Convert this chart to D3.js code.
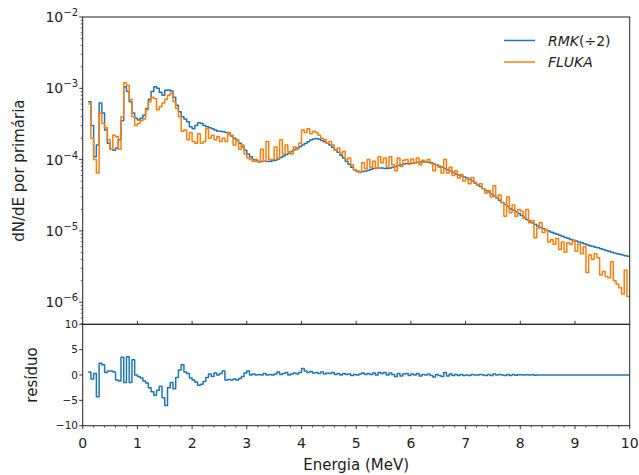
<!DOCTYPE html>
<html>
<head>
<meta charset="utf-8">
<script src="https://cdn.jsdelivr.net/npm/d3@7"></script>
<style>
  body { margin: 0; background: #fff; }
  svg { display: block; font-family: "DejaVu Sans", sans-serif; }
</style>
</head>
<body>
<svg id="chart" width="639" height="475"></svg>
<script>
// Energy binning of the spectra (MeV): first bin edge and bin width
const binStart = 0.10;
const binWidth = 0.05;

// RMK spectrum divided by 2, dN/dE per primary, one value per bin
const rmkHalf = [
  6.5e-4, 3.0e-4, 1.1e-4, 1.6e-4, 6.2e-4, 4.5e-4, 2.6e-4, 1.7e-4, 1.4e-4, 1.35e-4, 1.45e-4, 1.9e-4, 3.5e-4, 1.05e-3, 9.0e-4, 6.5e-4, 4.5e-4, 3.8e-4,
  3.6e-4, 3.8e-4, 4.2e-4, 5.2e-4, 7.0e-4, 9.0e-4, 1.05e-3, 1.0e-3, 8.8e-4, 8.0e-4, 9.4e-4, 9.5e-4, 9.2e-4, 7.5e-4, 5.8e-4, 4.7e-4, 4.0e-4, 3.7e-4, 3.4e-4, 2.9e-4,
  2.7e-4, 3.0e-4, 3.3e-4, 3.2e-4, 3.0e-4, 2.9e-4, 2.8e-4, 2.7e-4, 2.6e-4, 2.5e-4, 2.5e-4, 2.45e-4, 2.4e-4, 2.3e-4, 2.15e-4, 2.0e-4, 1.85e-4, 1.7e-4, 1.5e-4, 1.35e-4,
  1.2e-4, 1.1e-4, 1.0e-4, 9.6e-5, 9.4e-5, 9.4e-5, 9.5e-5, 9.4e-5, 9.5e-5, 9.6e-5, 9.8e-5, 1.02e-4, 1.07e-4, 1.12e-4, 1.18e-4, 1.23e-4, 1.3e-4, 1.38e-4, 1.45e-4, 1.52e-4,
  1.6e-4, 1.68e-4, 1.78e-4, 1.88e-4, 1.95e-4, 1.98e-4, 1.93e-4, 1.85e-4, 1.78e-4, 1.7e-4, 1.6e-4, 1.48e-4, 1.38e-4, 1.27e-4, 1.15e-4, 1.05e-4, 9.5e-5, 8.6e-5, 7.8e-5, 7.2e-5,
  6.8e-5, 6.7e-5, 6.8e-5, 6.9e-5, 7.1e-5, 7.3e-5, 7.5e-5, 7.6e-5, 7.6e-5, 7.6e-5, 7.5e-5, 7.5e-5, 7.6e-5, 7.8e-5, 8.0e-5, 8.3e-5, 8.5e-5, 8.7e-5, 8.8e-5, 8.8e-5,
  8.9e-5, 9.0e-5, 9.1e-5, 9.2e-5, 9.3e-5, 9.3e-5, 9.2e-5, 9.0e-5, 8.7e-5, 8.4e-5, 8.1e-5, 7.8e-5, 7.5e-5, 7.2e-5, 6.9e-5, 6.6e-5, 6.3e-5, 6.1e-5, 5.9e-5, 5.7e-5,
  5.5e-5, 5.3e-5, 5.0e-5, 4.7e-5, 4.4e-5, 4.2e-5, 3.9e-5, 3.7e-5, 3.5e-5, 3.3e-5, 3.1e-5, 2.9e-5, 2.7e-5, 2.5e-5, 2.35e-5, 2.2e-5, 2.05e-5, 1.95e-5, 1.85e-5, 1.75e-5,
  1.65e-5, 1.55e-5, 1.45e-5, 1.38e-5, 1.3e-5, 1.23e-5, 1.17e-5, 1.12e-5, 1.07e-5, 1.03e-5, 1.0e-5, 9.6e-6, 9.3e-6, 9.0e-6, 8.7e-6, 8.4e-6, 8.1e-6, 7.9e-6, 7.6e-6, 7.4e-6,
  7.2e-6, 7.0e-6, 6.8e-6, 6.6e-6, 6.4e-6, 6.2e-6, 6.1e-6, 5.9e-6, 5.8e-6, 5.6e-6, 5.5e-6, 5.3e-6, 5.2e-6, 5.0e-6, 4.9e-6, 4.8e-6, 4.7e-6, 4.6e-6, 4.5e-6, 4.4e-6
];

// FLUKA spectrum, dN/dE per primary, same bins
const fluka = [
  6.0e-4, 2.0e-4, 1.0e-4, 6.5e-5, 4.5e-4, 3.2e-4, 2.8e-4, 1.9e-4, 1.4e-4, 2.2e-4, 2.1e-4, 1.4e-4, 4.0e-4, 1.2e-3, 1.1e-3, 7.0e-4, 4.0e-4, 3.0e-4,
  3.2e-4, 3.5e-4, 3.7e-4, 5.0e-4, 6.5e-4, 7.5e-4, 7.2e-4, 5.0e-4, 5.5e-4, 6.2e-4, 7.0e-4, 8.0e-4, 8.5e-4, 6.5e-4, 5.2e-4, 4.0e-4, 2.5e-4, 2.6e-4, 1.9e-4, 2.4e-4,
  1.8e-4, 1.7e-4, 2.3e-4, 1.7e-4, 1.8e-4, 2.7e-4, 2.0e-4, 2.2e-4, 1.9e-4, 2.1e-4, 1.8e-4, 2.0e-4, 1.8e-4, 2.4e-4, 2.2e-4, 1.6e-4, 1.9e-4, 1.4e-4, 1.6e-4, 1.2e-4,
  1.05e-4, 1.0e-4, 9.5e-5, 1.0e-4, 9.2e-5, 1.4e-4, 9.5e-5, 1.8e-4, 1.0e-4, 1.0e-4, 1.5e-4, 1.05e-4, 1.9e-4, 1.2e-4, 1.6e-4, 1.3e-4, 1.2e-4, 1.5e-4, 1.4e-4, 1.7e-4,
  2.6e-4, 2.4e-4, 2.7e-4, 2.3e-4, 2.5e-4, 2.4e-4, 2.2e-4, 2.0e-4, 1.9e-4, 1.7e-4, 1.8e-4, 1.6e-4, 1.35e-4, 1.45e-4, 1.2e-4, 1.3e-4, 1.0e-4, 1.05e-4, 8.5e-5, 7.2e-5,
  7.0e-5, 6.6e-5, 9.0e-5, 7.5e-5, 1.0e-4, 7.8e-5, 9.5e-5, 7.5e-5, 1.1e-4, 9.0e-5, 1.05e-4, 7.8e-5, 1.1e-4, 8.5e-5, 7.0e-5, 1.05e-4, 8.0e-5, 9.8e-5, 1.0e-4, 8.6e-5,
  1.02e-4, 9.0e-5, 1.05e-4, 8.5e-5, 9.8e-5, 9.2e-5, 1.0e-4, 8.8e-5, 7.0e-5, 8.5e-5, 7.8e-5, 6.5e-5, 1.0e-4, 6.5e-5, 7.8e-5, 6.0e-5, 7.0e-5, 5.5e-5, 6.2e-5, 5.0e-5,
  5.4e-5, 4.6e-5, 5.6e-5, 4.8e-5, 4.4e-5, 4.6e-5, 3.9e-5, 3.4e-5, 3.7e-5, 3.0e-5, 4.3e-5, 2.9e-5, 3.2e-5, 2.5e-5, 1.6e-5, 3.0e-5, 1.8e-5, 2.3e-5, 1.6e-5, 2.0e-5,
  1.9e-5, 1.5e-5, 2.0e-5, 1.3e-5, 1.4e-5, 8.0e-6, 1.1e-5, 1.3e-5, 9.5e-6, 1.05e-5, 7.0e-6, 7.5e-6, 6.5e-6, 7.8e-6, 5.5e-6, 7.0e-6, 5.0e-6, 6.8e-6, 6.5e-6, 7.2e-6,
  5.2e-6, 6.5e-6, 4.8e-6, 6.0e-6, 2.6e-6, 4.6e-6, 4.0e-6, 4.8e-6, 4.2e-6, 2.4e-6, 2.7e-6, 2.3e-6, 2.2e-6, 3.7e-6, 2.0e-6, 1.8e-6, 1.6e-6, 1.3e-6, 2.8e-6, 1.2e-6
];

// Residual between the two spectra, same bins
const residuo = [
  0.6, -0.8, 0.3, -4.3, 2.3, 2.0, 0.5, 0.8, 0.8, 0.6, -1.0, -1.2, 3.5, -1.5, 3.6, -1.5, 3.0, 0.0,
  -0.3, -0.6, -1.2, -1.6, -2.5, -3.3, -4.0, -3.0, -2.2, -4.5, -6.0, -2.5, -1.5, -2.7, -0.5, 1.0, 2.0, 0.6, 0.3, -0.6,
  -1.0, -1.4, -2.0, -1.8, -1.3, -0.5, 0.2, -0.3, 0.4, 0.0, 0.3, 0.8, -1.0, -0.9, -1.0, -0.8, -1.0, -0.7, -0.3, 0.4,
  0.8, 0.0, 0.2, 0.0, 0.1, 0.0, 0.3, 0.0, 0.1, 0.0, 0.2, 0.6, 0.1, 0.3, 0.5, 0.0, 0.2, 0.4, 0.2, 0.5,
  1.3, 0.8, 0.5, 0.7, 0.4, 0.5, 0.3, 0.6, 0.2, 0.4, 0.3, 0.5, 0.1, 0.3, 0.0, 0.3, 0.1, 0.2, -0.1, 0.1,
  0.0, 0.2, 0.4, 0.1, 0.3, 0.1, 0.4, 0.0, 0.5, 0.3, 0.5, 0.0, 0.4, 0.1, -0.3, 0.3, -0.2, 0.2, 0.3, -0.1,
  0.2, 0.0, 0.3, -0.2, 0.1, 0.0, 0.2, -0.1, -0.4, 0.1, -0.1, -0.3, 0.5, -0.2, 0.2, -0.1, 0.1, -0.1, 0.1, -0.1,
  0.0, -0.1, 0.1, 0.0, 0.0, 0.1, 0.0, -0.1, 0.1, -0.1, 0.2, 0.0, 0.1, 0.0, -0.1, 0.1, -0.1, 0.1, -0.05, 0.05,
  0.05, 0.0, 0.05, 0.0, 0.03, -0.03, 0.02, 0.0, 0.02, -0.02, 0.0, 0.02, 0.0, -0.02, 0.0, 0.01, 0.0, -0.01, 0.0, 0.0,
  0, 0, 0, 0, 0, 0, 0, 0, 0, 0, 0, 0, 0, 0, 0, 0, 0, 0, 0, 0
];

// Axis ticks and labels
const energyTicks = [0, 1, 2, 3, 4, 5, 6, 7, 8, 9, 10];
const decadeTicks = [1e-2, 1e-3, 1e-4, 1e-5, 1e-6];
const decadeExponents = ["\u22122", "\u22123", "\u22124", "\u22125", "\u22126"];
const residTicks = [-10, -5, 0, 5, 10];
const residLabels = ["\u221210", "\u22125", "0", "5", "10"];
const seriesNames = ["RMK", "FLUKA"];

const colors = { rmk: "#1f77b4", fluka: "#ff7f0e" };

const svg = d3.select("#chart");
const left = 82.7, right = 629.7;
const topY0 = 17, topY1 = 324.3, botY0 = 324.3, botY1 = 425.7;

const x = d3.scaleLinear().domain([0, 10]).range([left, right]);
const y = d3.scaleLog().domain([4.9e-7, 1e-2]).range([topY1, topY0]);
const yr = d3.scaleLinear().domain([-10, 10]).range([botY1, botY0]);

// bin edges: each value is drawn from its left edge; the last one is held to the final edge
function stepPoints(values) {
  const pts = values.map((v, i) => [binStart + i * binWidth, v]);
  pts.push([binStart + values.length * binWidth, values[values.length - 1]]);
  return pts;
}

svg.append("defs").append("clipPath").attr("id", "clipTop")
  .append("rect").attr("x", left).attr("y", topY0).attr("width", right - left).attr("height", topY1 - topY0);
svg.select("defs").append("clipPath").attr("id", "clipBot")
  .append("rect").attr("x", left).attr("y", botY0).attr("width", right - left).attr("height", botY1 - botY0);

const lineTop = d3.line().curve(d3.curveStepAfter).x(d => x(d[0])).y(d => y(d[1]));
const lineBot = d3.line().curve(d3.curveStepAfter).x(d => x(d[0])).y(d => yr(d[1]));

const gTop = svg.append("g").attr("clip-path", "url(#clipTop)");
gTop.append("path").attr("d", lineTop(stepPoints(rmkHalf)))
  .attr("fill", "none").attr("stroke", colors.rmk).attr("stroke-width", 1.5).attr("stroke-linejoin", "round");
gTop.append("path").attr("d", lineTop(stepPoints(fluka)))
  .attr("fill", "none").attr("stroke", colors.fluka).attr("stroke-width", 1.5).attr("stroke-linejoin", "round");

svg.append("g").attr("clip-path", "url(#clipBot)")
  .append("path").attr("d", lineBot(stepPoints(residuo)))
  .attr("fill", "none").attr("stroke", colors.rmk).attr("stroke-width", 1.5).attr("stroke-linejoin", "round");

// frames
const spine = "#222";
svg.append("rect").attr("x", left).attr("y", topY0).attr("width", right - left).attr("height", topY1 - topY0)
  .attr("fill", "none").attr("stroke", spine).attr("stroke-width", 1);
svg.append("rect").attr("x", left).attr("y", botY0).attr("width", right - left).attr("height", botY1 - botY0)
  .attr("fill", "none").attr("stroke", spine).attr("stroke-width", 1);

// log y axis of the spectrum panel
const yAxis = svg.append("g");
const minorVals = [];
for (let e = -7; e <= -3; e++) for (let k = 2; k <= 9; k++) {
  const v = k * Math.pow(10, e);
  if (v > y.domain()[0] && v < y.domain()[1]) minorVals.push(v);
}
yAxis.selectAll(".minor").data(minorVals).join("line")
  .attr("x1", left - 2).attr("x2", left).attr("y1", d => y(d)).attr("y2", d => y(d))
  .attr("stroke", spine).attr("stroke-width", 0.7);
yAxis.selectAll(".major").data(decadeTicks).join("line")
  .attr("x1", left - 3.5).attr("x2", left).attr("y1", d => y(d)).attr("y2", d => y(d))
  .attr("stroke", spine).attr("stroke-width", 0.9);
const yLab = yAxis.selectAll(".lab").data(decadeTicks).join("text")
  .attr("x", 78).attr("y", d => y(d) + 5)
  .attr("text-anchor", "end").attr("font-size", 14).attr("fill", "#222");
yLab.append("tspan").text("10");
yLab.append("tspan").attr("font-size", 10).attr("dy", -6).text((d, i) => decadeExponents[i]);

// x ticks on the shared edge of the spectrum panel
svg.append("g").selectAll("line").data(energyTicks.slice(1, -1)).join("line")
  .attr("x1", d => x(d)).attr("x2", d => x(d)).attr("y1", topY1 - 3.5).attr("y2", topY1)
  .attr("stroke", spine).attr("stroke-width", 0.9);

// residual panel axes
const xAxis = svg.append("g");
xAxis.selectAll(".minor").data(d3.range(0, 10.01, 0.2).filter(v => Math.abs(v - Math.round(v)) > 1e-6)).join("line")
  .attr("x1", d => x(d)).attr("x2", d => x(d)).attr("y1", botY1).attr("y2", botY1 + 2)
  .attr("stroke", spine).attr("stroke-width", 0.7);
xAxis.selectAll(".major").data(energyTicks).join("line")
  .attr("x1", d => x(d)).attr("x2", d => x(d)).attr("y1", botY1).attr("y2", botY1 + 3.5)
  .attr("stroke", spine).attr("stroke-width", 0.9);
xAxis.selectAll("text").data(energyTicks).join("text")
  .attr("x", d => x(d)).attr("y", 448).attr("text-anchor", "middle")
  .attr("font-size", 14).attr("fill", "#222").text(d => d);

const rAxis = svg.append("g");
rAxis.selectAll("line").data(residTicks).join("line")
  .attr("x1", left - 3.5).attr("x2", left).attr("y1", d => yr(d)).attr("y2", d => yr(d))
  .attr("stroke", spine).attr("stroke-width", 0.9);
rAxis.selectAll("text").data(residTicks).join("text")
  .attr("x", 78).attr("y", d => yr(d) + 3.6).attr("text-anchor", "end")
  .attr("font-size", 10.5).attr("fill", "#222").text((d, i) => residLabels[i]);

// axis titles
svg.append("text").attr("transform", `translate(24,${(topY0 + topY1) / 2}) rotate(-90)`)
  .attr("text-anchor", "middle").attr("font-size", 15).attr("fill", "#222").text("dN/dE por primária");
svg.append("text").attr("transform", `translate(37,${(botY0 + botY1) / 2}) rotate(-90)`)
  .attr("text-anchor", "middle").attr("font-size", 15).attr("fill", "#222").text("resíduo");
svg.append("text").attr("x", (left + right) / 2).attr("y", 470).attr("text-anchor", "middle")
  .attr("font-size", 15).attr("fill", "#222").text("Energia (MeV)");

// legend
const legend = svg.append("g");
const legendRows = [
  { color: colors.rmk, y: 40.5 },
  { color: colors.fluka, y: 62 }
];
legendRows.forEach((r, i) => {
  legend.append("line").attr("x1", 504).attr("x2", 535).attr("y1", r.y).attr("y2", r.y)
    .attr("stroke", r.color).attr("stroke-width", 1.5);
  const t = legend.append("text").attr("x", 548).attr("y", r.y + 5).attr("font-size", 14).attr("fill", "#222");
  t.append("tspan").attr("font-style", "italic").text(seriesNames[i]);
  if (i === 0) t.append("tspan").text("(\u00f72)");
});
</script>
</body>
</html>
